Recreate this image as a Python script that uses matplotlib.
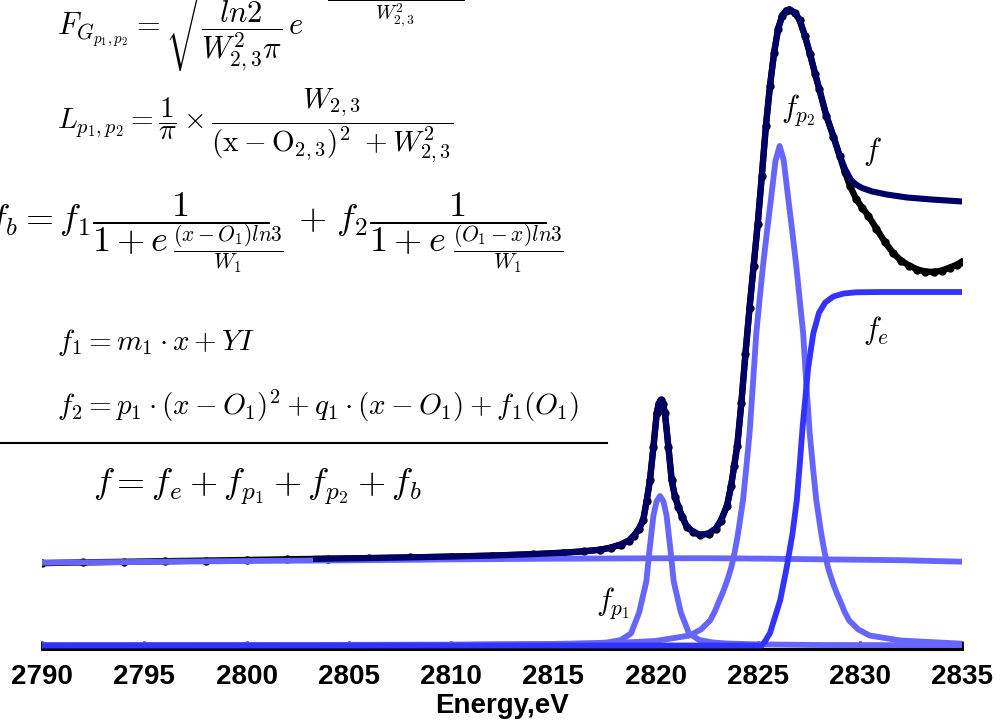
import matplotlib
matplotlib.use('Agg')
import matplotlib.pyplot as plt
from matplotlib.lines import Line2D

plt.rcParams['mathtext.fontset'] = 'cm'
plt.rcParams['font.family'] = ['Liberation Sans', 'DejaVu Sans']

# measured spectrum (black dots)
data_e = [2790, 2792, 2794, 2796, 2798, 2800, 2802, 2804, 2806, 2808, 2810, 2812, 2814,
          2815.5, 2816.5, 2817.3, 2817.8, 2818.3, 2818.7, 2818.95, 2819.2, 2819.4, 2819.57,
          2819.73, 2819.9, 2820.06, 2820.16, 2820.26, 2820.36, 2820.46, 2820.63, 2820.79,
          2820.95, 2821.12, 2821.3, 2821.53, 2821.85, 2822.18, 2822.6, 2822.95, 2823.2,
          2823.5, 2823.7, 2823.85, 2824.0, 2824.2, 2824.4, 2824.6, 2824.8, 2825.0, 2825.2,
          2825.4, 2825.6, 2825.8, 2826.0, 2826.2, 2826.4, 2826.55, 2826.8, 2827.05, 2827.3,
          2827.55, 2827.8, 2828.0, 2828.35, 2828.7, 2829.0, 2829.25, 2829.5, 2829.8, 2830.1,
          2830.4, 2830.8, 2831.2, 2831.6, 2832.0, 2832.4, 2832.8, 2833.2, 2833.6, 2834.0,
          2834.4, 2834.75, 2835.0]
data_a = [0.824, 0.831, 0.837, 0.843, 0.849, 0.855, 0.862, 0.868, 0.874, 0.881, 0.889, 0.899, 0.913,
          0.928, 0.942, 0.958, 0.978, 1.01, 1.05, 1.10, 1.17, 1.255, 1.45,
          1.655, 1.988, 2.322, 2.42, 2.455, 2.42, 2.325, 1.988, 1.655,
          1.49, 1.388, 1.29, 1.188, 1.135, 1.105, 1.12, 1.17, 1.25,
          1.40, 1.60, 1.80, 2.0, 2.43, 2.92, 3.38, 3.80, 4.22, 4.70,
          5.20, 5.60, 5.93, 6.17, 6.30, 6.35, 6.36, 6.33, 6.255, 6.10,
          5.92, 5.72, 5.57, 5.30, 5.09, 4.90, 4.74, 4.60, 4.47, 4.38,
          4.30, 4.17, 4.04, 3.93, 3.85, 3.80, 3.76, 3.74, 3.735, 3.75,
          3.78, 3.81, 3.84]

# fitted total f
fit_e = [2803.25, 2806, 2808, 2810, 2812, 2814, 2815.5, 2816.5, 2817.3, 2817.8, 2818.3, 2818.7,
         2818.95, 2819.2, 2819.4, 2819.57, 2819.73, 2819.9, 2820.06, 2820.16, 2820.26, 2820.36,
         2820.46, 2820.63, 2820.79, 2820.95, 2821.12, 2821.3, 2821.53, 2821.85, 2822.18, 2822.6,
         2822.95, 2823.2, 2823.5, 2823.7, 2823.85, 2824.0, 2824.2, 2824.4, 2824.6, 2824.8,
         2825.0, 2825.2, 2825.4, 2825.6, 2825.8, 2826.0, 2826.2, 2826.4, 2826.55, 2826.8,
         2827.05, 2827.3, 2827.55, 2827.8, 2828.0, 2828.35, 2828.7, 2829.0, 2829.3, 2829.55,
         2829.8, 2830.1, 2830.6, 2831.3, 2832.3, 2833.5, 2835.0]
fit_f = [0.866, 0.874, 0.881, 0.889, 0.899, 0.913, 0.928, 0.942, 0.958, 0.978, 1.01, 1.05,
         1.10, 1.17, 1.255, 1.45, 1.655, 1.988, 2.322, 2.42, 2.455, 2.42,
         2.325, 1.988, 1.655, 1.49, 1.388, 1.29, 1.188, 1.135, 1.105, 1.12,
         1.17, 1.25, 1.40, 1.60, 1.80, 2.0, 2.43, 2.92, 3.38, 3.80,
         4.22, 4.70, 5.20, 5.60, 5.93, 6.17, 6.30, 6.35, 6.36, 6.33,
         6.255, 6.10, 5.92, 5.72, 5.57, 5.30, 5.09, 4.90, 4.75, 4.66,
         4.61, 4.575, 4.54, 4.51, 4.48, 4.46, 4.44]

# edge step f_e
edge_e = [2790, 2825.2, 2825.35, 2825.6, 2826.1, 2826.42, 2826.7, 2826.91, 2827.05, 2827.2,
          2827.47, 2827.72, 2828.0, 2828.3, 2828.7, 2829.2, 2829.8, 2831, 2835]
edge_f = [0, 0, 0.04, 0.125, 0.455, 0.785, 1.12, 1.455, 1.8, 2.2,
          2.785, 3.125, 3.33, 3.43, 3.49, 3.52, 3.532, 3.535, 3.535]

# pre-edge peak f_p1
p1_e = [2790, 2800, 2810, 2814, 2816, 2817, 2817.62, 2818.3, 2818.8, 2819.2, 2819.55, 2819.72,
        2819.9, 2820.05, 2820.22, 2820.39, 2820.54, 2820.72, 2820.89, 2821.24, 2821.64,
        2822.14, 2822.82, 2823.5, 2825, 2828, 2835]
p1_f = [0.002, 0.003, 0.006, 0.011, 0.016, 0.022, 0.03, 0.055, 0.12, 0.33, 0.64, 0.98,
        1.3, 1.44, 1.495, 1.44, 1.3, 0.98, 0.64, 0.33, 0.12,
        0.055, 0.03, 0.02, 0.011, 0.005, 0.002]

# main peak f_p2
p2_e = [2790, 2800, 2810, 2815, 2818, 2820, 2821.67, 2822.22, 2822.67, 2822.9, 2823.13, 2823.27,
        2823.42, 2823.57, 2823.71, 2823.87, 2824.02, 2824.28, 2824.44, 2824.6, 2824.77, 2824.93,
        2825.07, 2825.25, 2825.44, 2825.64, 2825.87, 2826.07, 2826.27, 2826.5, 2826.7, 2826.89,
        2827.07, 2827.22, 2827.37, 2827.54, 2827.7, 2827.86, 2828.12, 2828.27, 2828.43, 2828.57,
        2828.72, 2828.87, 2829.01, 2829.24, 2829.47, 2829.92, 2830.47, 2831.97, 2835]
p2_f = [0.002, 0.004, 0.009, 0.016, 0.026, 0.045, 0.1, 0.16, 0.25, 0.34, 0.455, 0.52,
        0.6, 0.69, 0.785, 0.93, 1.1, 1.455, 1.78, 2.125, 2.63, 3.125,
        3.42, 3.785, 4.12, 4.455, 4.85, 4.995, 4.85, 4.455, 4.12, 3.785,
        3.42, 3.125, 2.63, 2.125, 1.78, 1.455, 1.1, 0.93, 0.785, 0.69,
        0.6, 0.52, 0.455, 0.34, 0.25, 0.16, 0.1, 0.05, 0.018]

# background f_b
bg_e = [2790, 2795, 2800, 2805, 2810, 2815, 2820, 2822.5, 2825, 2828, 2832, 2835]
bg_f = [0.828, 0.836, 0.845, 0.852, 0.861, 0.868, 0.872, 0.873, 0.869, 0.862, 0.853, 0.838]

W, H = 1006, 723
fig = plt.figure(figsize=(W / 100, H / 100), dpi=100)
ax = fig.add_axes([42 / W, (H - 648.5) / H, 920.25 / W, 648.5 / H])

light = '#6666ff'
ax.plot(data_e, data_a, color='black', lw=4.6, marker='o', ms=5, zorder=1)
ax.plot(bg_e, bg_f, color=light, lw=4.2, zorder=2)
ax.plot(p1_e, p1_f, color=light, lw=4.2, zorder=2)
ax.plot(p2_e, p2_f, color=light, lw=4.2, zorder=2)
ax.plot(edge_e, edge_f, color='#3333ff', lw=4.2, zorder=3)
ax.plot(fit_e, fit_f, color='#000066', lw=4.4, zorder=4, solid_capstyle='butt')

ax.text(2826.15, 5.355, r'$f_{p_2}$', fontsize=22, va='center', ha='left')
ax.text(2830.15, 4.945, r'$f$', fontsize=22, va='center', ha='left')
ax.text(2830.15, 3.155, r'$f_e$', fontsize=22, va='center', ha='left')
ax.text(2817.1, 0.425, r'$f_{p_1}$', fontsize=22, va='center', ha='left')

ax.set_xlim(2790, 2835)
ax.set_ylim(-0.03, 6.455)
ax.set_xticks(range(2790, 2836, 5))
ax.set_yticks([])
for s in ['left', 'right', 'top']:
    ax.spines[s].set_visible(False)
ax.spines['bottom'].set_linewidth(2.2)
ax.tick_params(axis='x', direction='in', length=6, width=2, labelsize=20, pad=11)
for lab in ax.get_xticklabels():
    lab.set_fontweight('bold')
ax.set_xlabel('Energy,eV', fontsize=20, fontweight='bold', labelpad=2)
ax.patch.set_visible(False)


def put(xp, yp, s, size, va='baseline', ha='left'):
    fig.text(xp / W, 1 - yp / H, s, fontsize=size, va=va, ha=ha)


# equations (computer modern, partly cut by the figure edge as in the original)
put(57, 35, r'$F_{G_{p_1,p_2}} = \sqrt{\dfrac{ln2}{W_{2,3}^2\pi}}e$', 22)
put(312, 1, r'$-\dfrac{4\,ln2\,(x-O_{2,3})^2}{W_{2,3}^2}$', 14, va='center')
put(57, 128, r'$L_{p_1,p_2} = \dfrac{1}{\pi} \times \dfrac{W_{2,3}}{(\mathrm{x}-\mathrm{O}_{2,3})^2\ + W_{2,3}^2}$', 21)
put(-12, 230, r'$f_b = f_1\dfrac{1}{1+e^{\qquad\qquad\;}}$', 26)
put(228, 249, r'$\dfrac{(x-O_1)ln3}{W_1}$', 15.5, va='center', ha='center')
put(298, 230, r'$+\ f_2\dfrac{1}{1+e^{\qquad\qquad\;}}$', 26)
put(508, 249, r'$\dfrac{(O_1-x)ln3}{W_1}$', 15.5, va='center', ha='center')
put(57, 350, r'$f_1 = m_1 \cdot x + YI$', 21)
put(57, 415, r'$f_2 = p_1 \cdot (x - O_1)^2 + q_1 \cdot (x - O_1) + f_1(O_1)$', 21)
put(93, 494, r'$f = f_e + f_{p_1} + f_{p_2} + f_b$', 26)
fig.add_artist(Line2D([0, 607 / W], [1 - 443 / H] * 2, color='black', lw=1.5))

fig.savefig('out.png', dpi=100)
